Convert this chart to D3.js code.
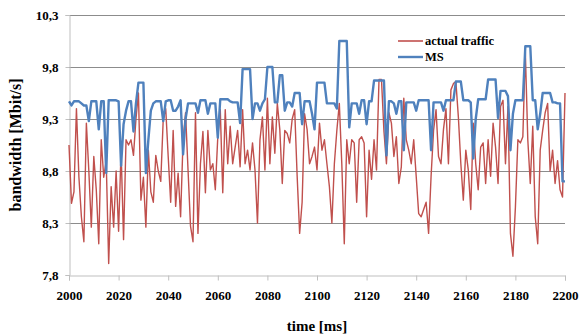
<!DOCTYPE html>
<html>
<head>
<meta charset="utf-8">
<script src="https://cdn.jsdelivr.net/npm/d3@7"></script>
<style>
  body { margin: 0; background: #fff; }
  text { font-family: "Liberation Serif", "Times New Roman", serif; font-weight: bold; fill: #000; }
</style>
</head>
<body>
<svg width="580" height="335"></svg>
<script>
(function () {
  'use strict';

  // time axis (ms), one sample per ms
  const tStart = 2000, tEnd = 2200;
  const xTicks = [2000, 2020, 2040, 2060, 2080, 2100, 2120, 2140, 2160, 2180, 2200];
  const yTicks = [7.8, 8.3, 8.8, 9.3, 9.8, 10.3];

  const seriesNames = ['actual traffic', 'MS'];

  // actual traffic [Mbit/s], 2000..2200 ms
  const actualTraffic = [
    9.05, 8.49, 8.6, 9.4, 8.74, 8.36, 8.12, 9.26, 8.8, 8.26,
    8.94, 8.62, 8.1, 9.1, 8.74, 8.9, 7.91, 8.65, 8.26, 8.8,
    8.22, 9.0, 8.14, 9.1, 9.05, 9.1, 8.95, 9.3, 9.55, 8.52,
    8.74, 8.26, 9.0, 8.6, 8.5, 8.95, 8.8, 8.7, 9.3, 9.4,
    8.94, 8.5, 9.19, 8.46, 8.78, 8.36, 9.1, 9.36, 8.81, 8.27,
    8.12, 9.36, 8.2, 8.87, 9.18, 8.59, 9.19, 8.81, 8.87, 8.62,
    9.13, 9.39, 8.59, 9.39, 8.87, 9.23, 8.87, 9.03, 9.19, 8.84,
    9.39, 8.87, 9.0, 8.81, 9.07, 8.81, 8.3, 9.1, 9.32, 8.81,
    9.5, 8.87, 9.32, 8.97, 9.45, 9.2, 8.68, 9.19, 9.16, 9.07,
    9.3, 9.39, 8.75, 8.2, 8.5, 9.35, 9.2, 8.87, 8.94, 9.03,
    8.81, 9.26, 9.0, 9.1, 8.87, 8.65, 8.3, 8.87, 9.19, 9.45,
    8.87, 8.1, 9.1, 8.87, 9.1, 9.07, 8.5, 9.1, 9.13, 9.07,
    8.36, 9.0, 8.72, 9.1, 8.81, 9.68, 9.68, 9.18, 8.87, 9.36,
    9.26, 8.94, 9.13, 8.68, 8.84, 9.5, 9.1, 9.0, 8.87, 9.1,
    8.75, 8.39, 8.36, 8.43, 8.5, 8.2, 8.75, 9.19, 9.39, 8.94,
    8.87, 9.2, 9.4, 8.87, 9.58, 9.64, 9.66, 9.32, 8.87,
    8.52, 9.0, 8.81, 8.43, 9.26, 8.87, 8.62, 9.03, 9.07, 8.68,
    9.1, 8.75, 9.26, 9.03, 8.68, 9.42, 9.48, 8.87, 9.42, 8.2,
    7.98, 8.45, 9.1, 9.07, 9.13, 9.95, 9.1, 8.68, 9.23, 8.36,
    8.1, 9.0, 9.19, 9.36, 9.45, 8.8, 9.0, 8.68, 8.9, 8.62,
    8.55, 9.55
  ];

  // MS estimate [Mbit/s], 2000..2200 ms
  const msValues = [
    9.47, 9.43, 9.47, 9.47, 9.47, 9.45, 9.43, 9.43, 9.28, 9.47,
    9.47, 9.47, 9.2, 9.47, 9.47, 8.78, 9.48, 9.48, 9.48, 9.48,
    9.47, 8.85, 9.25, 9.38, 9.47, 9.47, 9.18, 9.45, 9.65, 9.65,
    9.65, 8.78, 9.1, 9.38, 9.45, 9.47, 9.47, 9.47, 9.28, 9.47,
    9.48, 9.48, 9.38, 9.38, 9.42, 9.48, 8.96, 9.3, 9.45, 9.45,
    9.45, 9.45, 9.36, 9.48, 9.48, 9.48, 9.35, 9.45, 9.45, 9.45,
    9.12, 9.49, 9.49, 9.49, 9.49, 9.47, 9.46, 9.46, 9.46, 9.26,
    9.78, 9.78, 9.78, 9.78, 9.3, 9.45, 9.45, 9.38, 9.45, 9.49,
    9.8, 9.8, 9.8, 9.46, 9.46, 9.72, 9.72, 9.38, 9.46, 9.46,
    9.42, 9.55, 9.55, 9.55, 9.25, 9.47, 9.47, 9.47, 9.35, 9.2,
    9.65, 9.65, 9.65, 9.65, 9.45, 9.45, 9.45, 9.45, 9.4, 10.05,
    10.05, 10.05, 10.05, 9.22, 9.45, 9.45, 9.45, 9.35, 9.48, 9.48,
    9.25, 9.47, 9.47, 9.67, 9.67, 9.67, 9.67, 9.67, 8.95, 9.47,
    9.47, 9.45, 9.35, 9.47, 9.47, 9.0, 9.46, 9.46, 9.46, 9.46,
    9.38, 9.48, 9.48, 9.48, 9.48, 9.48, 9.0, 9.46, 9.46, 9.46,
    9.46, 9.38, 9.48, 9.48, 9.48, 9.48, 9.66, 9.66, 9.66, 9.48,
    9.48, 9.48, 9.46, 8.92, 9.3, 9.49, 9.49, 9.49, 9.49, 9.68,
    9.68, 9.68, 9.68, 9.31, 9.57, 9.57, 9.57, 9.52, 9.0, 9.35,
    9.48, 9.48, 9.48, 9.48, 10.0, 10.0, 10.0, 9.48, 9.48, 9.2,
    9.35, 9.55, 9.55, 9.55, 9.55, 9.46, 9.46, 9.45, 9.45, 8.7,
    8.7
  ];

  const times = actualTraffic.map((d, i) => tStart + i);

  const red = '#c0504d';
  const blue = '#4f81bd';

  const plot = {left: 69, right: 565, top: 15, bottom: 275};

  const svg = d3.select('svg');

  const x = d3.scaleLinear()
    .domain([tStart, tEnd])
    .range([plot.left, plot.right]);
  const y = d3.scaleLinear()
    .domain([7.8, 10.3])
    .range([plot.bottom, plot.top]);

  const fmt = (d) => d.toFixed(1).replace('.', ',');

  // horizontal gridlines
  svg.append('g')
    .selectAll('line')
    .data(yTicks.slice(1))
    .enter()
    .append('line')
      .attr('x1', plot.left)
      .attr('x2', plot.right)
      .attr('y1', (d) => Math.round(y(d)) + 0.5)
      .attr('y2', (d) => Math.round(y(d)) + 0.5)
      .attr('stroke', '#8c8c8c')
      .attr('stroke-width', 1);

  // y axis
  const yAxis = svg.append('g')
    .attr('transform', `translate(${plot.left + 0.5},0)`)
    .call(d3.axisLeft(y).tickValues(yTicks).tickFormat(fmt).tickSize(4).tickPadding(7));
  yAxis.select('.domain').attr('stroke', '#bfbfbf');
  yAxis.selectAll('.tick line').attr('stroke', '#bfbfbf');
  yAxis.selectAll('.tick text')
    .style('font-size', '13px')
    .style('font-family', '"Liberation Serif", serif')
    .style('font-weight', 'bold')
    .attr('fill', '#000');

  // x axis
  const xAxis = svg.append('g')
    .attr('transform', `translate(0,${plot.bottom + 0.5})`)
    .call(d3.axisBottom(x).tickValues(xTicks).tickFormat(d3.format('d')).tickSize(5).tickPadding(10));
  xAxis.select('.domain').attr('stroke', '#bfbfbf');
  xAxis.selectAll('.tick line').attr('stroke', '#bfbfbf');
  xAxis.selectAll('.tick text')
    .style('font-size', '13px')
    .style('font-family', '"Liberation Serif", serif')
    .style('font-weight', 'bold')
    .attr('fill', '#000');

  // series
  const line = d3.line()
    .x((d) => x(d[0]))
    .y((d) => y(d[1]));

  svg.append('path')
    .datum(times.map((t, i) => [t, actualTraffic[i]]))
    .attr('d', line)
    .attr('fill', 'none')
    .attr('stroke', red)
    .attr('stroke-width', 1.4)
    .attr('stroke-linejoin', 'round');

  svg.append('path')
    .datum(times.map((t, i) => [t, msValues[i]]))
    .attr('d', line)
    .attr('fill', 'none')
    .attr('stroke', blue)
    .attr('stroke-width', 2.4)
    .attr('stroke-linejoin', 'round');

  // legend
  const legend = svg.append('g').attr('transform', 'translate(398,41)');
  [red, blue].forEach((c, i) => {
    const row = legend.append('g').attr('transform', `translate(0,${i * 16})`);
    row.append('line')
      .attr('x1', 0).attr('x2', 25)
      .attr('stroke', c)
      .attr('stroke-width', i === 0 ? 1.6 : 2.4);
    row.append('text')
      .attr('x', 27)
      .attr('dy', '0.35em')
      .style('font-size', '12.5px')
      .text(seriesNames[i]);
  });

  // axis titles
  svg.append('text')
    .attr('x', (plot.left + plot.right) / 2)
    .attr('y', 331)
    .attr('text-anchor', 'middle')
    .style('font-size', '15px')
    .text('time [ms]');

  svg.append('text')
    .attr('transform', `translate(21,${(plot.top + plot.bottom) / 2}) rotate(-90)`)
    .attr('text-anchor', 'middle')
    .style('font-size', '16px')
    .text('bandwidth [Mbit/s]');
}());
</script>
</body>
</html>
